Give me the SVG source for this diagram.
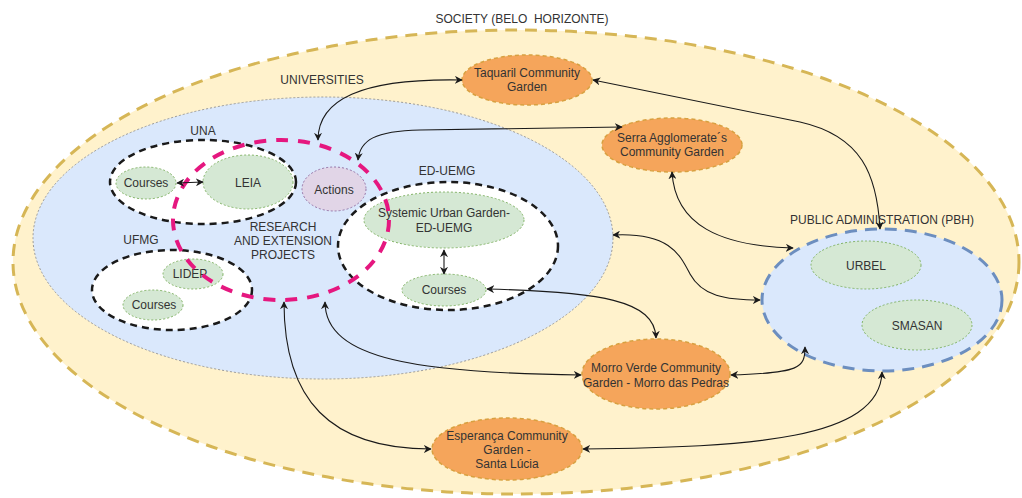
<svg xmlns="http://www.w3.org/2000/svg" width="1022" height="498" viewBox="0 0 1022 498">
<defs>
<style>
text{font-family:"Liberation Sans",Arial,sans-serif;font-size:12px;fill:#333;text-anchor:middle}
.green{fill:#d5e8d4;stroke:#82b366;stroke-width:1;stroke-dasharray:2 2}
.orange{fill:#f5a55b;stroke:#d8a040;stroke-width:1.5;stroke-dasharray:4 3}
.group{fill:#fff;stroke:#1a1a1a;stroke-width:2.5;stroke-dasharray:7 5}
.conn{fill:none;stroke:#1a1a1a;stroke-width:1.1;marker-start:url(#arr);marker-end:url(#arr)}
</style>
<marker id="arr" viewBox="0 0 10 10" refX="9" refY="5" markerWidth="8" markerHeight="8" markerUnits="userSpaceOnUse" orient="auto-start-reverse">
<path d="M0 0 L10 5 L0 10 L3 5 Z" fill="#1a1a1a"/>
</marker>
</defs>
<rect width="1022" height="498" fill="#fff"/>
<g id="society">
<ellipse cx="516" cy="262" rx="503" ry="232" fill="#fff2cc" stroke="#d6b656" stroke-width="3" stroke-dasharray="12 8"/>
<text x="522" y="23" xml:space="preserve">SOCIETY (BELO  HORIZONTE)</text>
</g>
<g id="universities">
<ellipse cx="323" cy="238" rx="290" ry="141" fill="#dae8fc" stroke="#999" stroke-width="1" stroke-dasharray="2 2"/>
<text x="322" y="84">UNIVERSITIES</text>
</g>
<g id="una">
<ellipse cx="203" cy="182" rx="93" ry="42" class="group"/>
<text x="203" y="135">UNA</text>
</g>
<g id="una-courses">
<ellipse cx="146" cy="183" rx="30" ry="16" class="green"/>
<text x="146" y="187">Courses</text>
</g>
<g id="leia">
<ellipse cx="248" cy="182" rx="45" ry="27" class="green"/>
<text x="248" y="187">LEIA</text>
</g>
<g id="ufmg">
<ellipse cx="172" cy="290" rx="80" ry="40" class="group"/>
<text x="141" y="244">UFMG</text>
</g>
<g id="lidep">
<ellipse cx="193" cy="274" rx="30" ry="15" class="green"/>
<text x="190" y="278">LIDEP</text>
</g>
<g id="ufmg-courses">
<ellipse cx="153" cy="305" rx="30" ry="15" class="green"/>
<text x="154" y="309">Courses</text>
</g>
<g id="ed-uemg">
<ellipse cx="448" cy="246" rx="110" ry="64" class="group"/>
<text x="447" y="175">ED-UEMG</text>
</g>
<g id="systemic">
<ellipse cx="444" cy="220" rx="80" ry="28" class="green"/>
<text x="444" y="217">Systemic Urban Garden-</text>
<text x="444" y="232">ED-UEMG</text>
</g>
<g id="ed-courses">
<ellipse cx="444" cy="290" rx="42" ry="16" class="green"/>
<text x="444" y="294">Courses</text>
</g>
<g id="actions">
<ellipse cx="334" cy="189" rx="32" ry="22" fill="#e1d5e7" stroke="#9673a6" stroke-width="1" stroke-dasharray="2 2"/>
<text x="334" y="194">Actions</text>
</g>
<g id="research">
<ellipse cx="281" cy="220" rx="108" ry="80" fill="none" stroke="#e5177f" stroke-width="4" stroke-dasharray="12 10"/>
<text x="283" y="231">RESEARCH</text>
<text x="283" y="245">AND EXTENSION</text>
<text x="283" y="259">PROJECTS</text>
</g>
<g id="taquaril">
<ellipse cx="527" cy="80" rx="65" ry="25" class="orange"/>
<text x="527" y="77">Taquaril Community</text>
<text x="527" y="91">Garden</text>
</g>
<g id="serra">
<ellipse cx="672" cy="145" rx="70" ry="27" class="orange"/>
<text x="672" y="142">Serra Agglomerate´s</text>
<text x="672" y="156">Community Garden</text>
</g>
<g id="pbh">
<ellipse cx="882" cy="300" rx="120" ry="71" fill="#dae8fc" stroke="#6c8ebf" stroke-width="3" stroke-dasharray="12 8"/>
<text x="882" y="224">PUBLIC ADMINISTRATION (PBH)</text>
</g>
<g id="urbel">
<ellipse cx="866" cy="265" rx="55" ry="24" class="green"/>
<text x="866" y="270">URBEL</text>
</g>
<g id="smasan">
<ellipse cx="917" cy="325" rx="55" ry="25" class="green"/>
<text x="917" y="330">SMASAN</text>
</g>
<g id="morro-verde">
<ellipse cx="656" cy="374" rx="74" ry="35" class="orange"/>
<text x="656" y="372">Morro Verde Community</text>
<text x="656" y="387">Garden - Morro das Pedras</text>
</g>
<g id="esperanca">
<ellipse cx="507" cy="449" rx="75" ry="31" class="orange"/>
<text x="507" y="440">Esperança Community</text>
<text x="507" y="454">Garden -</text>
<text x="507" y="468">Santa Lúcia</text>
</g>
<g id="connectors">
<path class="conn" d="M177 183 L203 182"/>
<path class="conn" d="M444 250 L444 274"/>
<path class="conn" d="M462 80 C360 78 318 100 318 140"/>
<path class="conn" d="M622 127 L420 130 C375 131 360 140 358 160"/>
<path class="conn" d="M593 80 L800 122 C862 136 877 175 880 229"/>
<path class="conn" d="M672 172 C675 225 720 246 793 248"/>
<path class="conn" d="M613 235 C670 232 680 255 690 274 C702 296 725 300 760 300"/>
<path class="conn" d="M487 289 C600 292 655 300 656 338"/>
<path class="conn" d="M325 302 C325 360 420 373 581 375"/>
<path class="conn" d="M731 375 C800 373 805 368 805 347"/>
<path class="conn" d="M284 302 C284 400 330 449 431 449"/>
<path class="conn" d="M583 449 C750 447 880 440 882 372"/>
</g>
</svg>
